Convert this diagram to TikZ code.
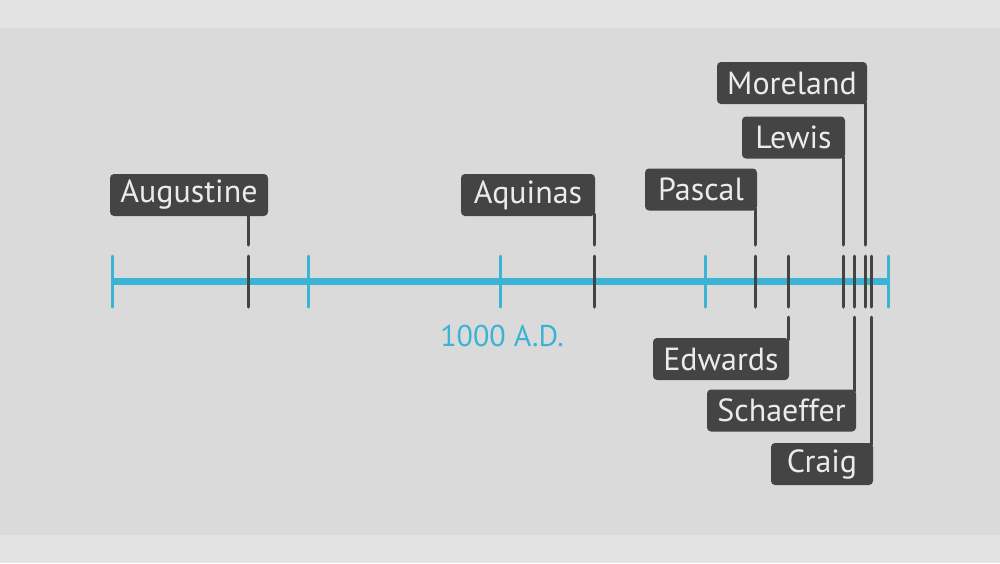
\documentclass[tikz,border=0pt]{standalone}
\usepackage{fontspec}
\setmainfont{PT Sans}
\definecolor{outerbg}{HTML}{E3E3E3}
\definecolor{bandbg}{HTML}{DADADA}
\definecolor{tlblue}{HTML}{3AB3D4}
\definecolor{boxdark}{HTML}{444444}
\definecolor{boxtext}{HTML}{EBEBEB}
\tikzset{
  x=1pt,y=-1pt,
  namebox/.style={fill=boxdark,rounded corners=4pt,text=boxtext,minimum height=42pt,inner sep=0pt,font=\fontsize{32}{32}\selectfont},
  bluetick/.style={draw=tlblue,line width=3pt,line cap=round},
  darktick/.style={draw=boxdark,line width=3pt,line cap=round},
  conn/.style={draw=boxdark,line width=3pt,line cap=round},
}
\begin{document}
\begin{tikzpicture}
\fill[outerbg] (0,0) rectangle (1000,563);
\fill[bandbg] (0,28) rectangle (1000,535);
\useasboundingbox (0,0) rectangle (1000,563);
% main line
\draw[draw=tlblue,line width=7pt] (112,281) -- (888,281);
\foreach \x in {112,308,500,705,888} \draw[bluetick] (\x,256) -- (\x,307);
\node[text=tlblue,font=\fontsize{30}{30}\selectfont] (ad) at (502,336) {1000 A.D.};
% dark ticks
\foreach \x in {248,594,755,788,843,854,865,871.5}{
  \draw[darktick] (\x,256) -- (\x,307);
}
% coordinates for connector ends
\coordinate (caug) at (248,245);
\coordinate (caqu) at (594,245);
\coordinate (cpas) at (755,245);
\coordinate (clew) at (843,245);
\coordinate (cmor) at (865,245);
\coordinate (cedw) at (788,317);
\coordinate (csch) at (854,317);
\coordinate (ccra) at (871.5,317);
% boxes
\node[namebox,minimum width=158pt] (aug) at (189,195) {Augustine};
\node[namebox,minimum width=134pt] (aqu) at (528,195) {Aquinas};
\node[namebox,minimum width=112pt] (pas) at (701,189.5) {Pascal};
\node[namebox,minimum width=103pt] (lew) at (793.5,137.5) {Lewis};
\node[namebox,minimum width=150pt] (mor) at (792,83) {Moreland};
\node[namebox,minimum width=136pt] (edw) at (721,359) {Edwards};
\node[namebox,minimum width=149pt] (sch) at (781.5,410.5) {Schaeffer};
\node[namebox,minimum width=102pt] (cra) at (822,464) {Craig};
% connectors
\draw[conn] (caug |- aug.south) ++(0,-2) -- (caug);
\draw[conn] (caqu |- aqu.south) ++(0,-2) -- (caqu);
\draw[conn] (cpas |- pas.south) ++(0,-2) -- (cpas);
\draw[conn] (clew |- lew.south) ++(0,-2) -- (clew);
\draw[conn] (cmor |- mor.south) ++(0,-2) -- (cmor);
\draw[conn] (cedw |- edw.north) ++(0,2) -- (cedw);
\draw[conn] (csch |- sch.north) ++(0,2) -- (csch);
\draw[conn] (ccra |- cra.north) ++(0,2) -- (ccra);
\end{tikzpicture}
\end{document}
